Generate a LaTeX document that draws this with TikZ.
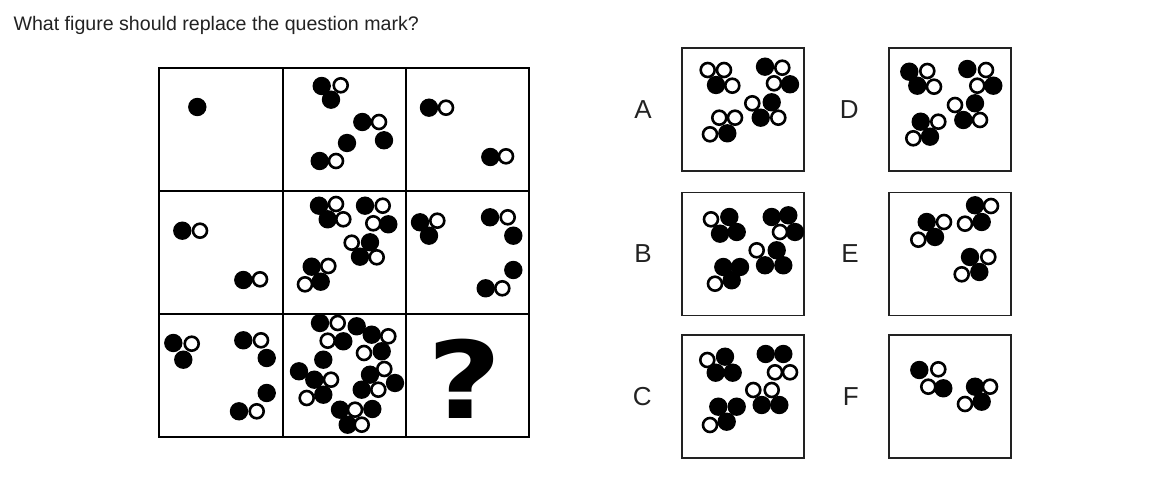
\documentclass[tikz,border=0pt]{standalone}
\usepackage{fontspec}
\setmainfont{Liberation Sans}
\newfontfamily\heavyfont{DejaVu Sans Bold}
\usepackage{xcolor}
\definecolor{inkGray}{HTML}{222222}
\usetikzlibrary{positioning}
\tikzset{
    bdot/.style={fill=black},
    wdot/.style={draw=black, fill=white, line width=2.6pt},
    gridline/.style={draw=black, line width=1.4pt},
    optbox/.style={draw=inkGray, line width=1.4pt, minimum width=122pt,
                   minimum height=123pt, inner sep=0pt},
    optlabel/.style={font=\fontsize{26}{26}\selectfont, text=inkGray},
}

\begin{document}
\begin{tikzpicture}[x=1pt, y=-1pt]
    \useasboundingbox (0,0) rectangle (1168,478);
    \node[anchor=base west, font=\fontsize{19.6}{19.6}\selectfont, text=inkGray] (title) at (10,30.5)
        {What figure should replace the question mark?};

    % grid
    \draw[gridline] (159,68) rectangle (529,437);
    \foreach \x in {283,406} \draw[gridline] (\x,68) -- (\x,437);
    \foreach \y in {191,314} \draw[gridline] (159,\y) -- (529,\y);

    % row 1
    \foreach \x/\y in {197.3/107} \fill[bdot] (\x,\y) circle (9.2);
    \foreach \x/\y in {321.7/86, 331/99.7, 362.3/122, 384/140.3, 347/143, 319.7/161}
        \fill[bdot] (\x,\y) circle (9.2);
    \foreach \x/\y in {340.7/85.3, 379/122, 336/161} \draw[wdot] (\x,\y) circle (7);
    \foreach \x/\y in {429/107.7, 490.3/157} \fill[bdot] (\x,\y) circle (9.2);
    \foreach \x/\y in {446/107.7, 506/156.3} \draw[wdot] (\x,\y) circle (7);

    % row 2
    \foreach \x/\y in {182.3/230.7, 243.3/280} \fill[bdot] (\x,\y) circle (9.2);
    \foreach \x/\y in {200/230.7, 260/279.3} \draw[wdot] (\x,\y) circle (7);
    \foreach \x/\y in {319/205.7, 327.7/219.3, 365/205.7, 388.3/224.3, 370/242.3, 360/256.7,
                       311.7/266.7, 320.7/281.7}
        \fill[bdot] (\x,\y) circle (9.2);
    \foreach \x/\y in {336/204, 343.3/219.3, 382.7/205.7, 373.3/223.3, 351.7/242.7, 376.7/257.3,
                       328.3/266, 305/284.3}
        \draw[wdot] (\x,\y) circle (7);
    \foreach \x/\y in {420/222.3, 429/235.7, 490/217.3, 513.3/235.7, 513.3/270, 485.7/288.3}
        \fill[bdot] (\x,\y) circle (9.2);
    \foreach \x/\y in {437.3/220.7, 507.7/217.3, 502.3/288.3} \draw[wdot] (\x,\y) circle (7);

    % row 3
    \foreach \x/\y in {173.3/343, 183.3/359.7, 243.3/340.3, 266.7/358, 266.7/393, 239/411.3}
        \fill[bdot] (\x,\y) circle (9.2);
    \foreach \x/\y in {191.7/343.7, 261/340.3, 256.7/411.3} \draw[wdot] (\x,\y) circle (7);
    \foreach \x/\y in {320/323, 343.3/341.3, 323.3/359.7, 356.7/326.3, 371.7/334.7, 381.7/351.3,
                       299/371.3, 314.3/379.7, 323.3/394.7, 370/374.7, 395/383, 361.7/389.7,
                       340/409.7, 372.3/409, 347.7/424.7}
        \fill[bdot] (\x,\y) circle (9.2);
    \foreach \x/\y in {337.7/323, 327.7/340.7, 388.3/336.3, 364/353, 331/379.7, 306.7/398,
                       384.3/369, 378.3/389.7, 355/409.7, 361.7/424.7}
        \draw[wdot] (\x,\y) circle (7);
    \node[anchor=base, xscale=1.2, font=\heavyfont\fontsize{107}{107}\selectfont] (qmark) at (465,418) {?};

    % options
    \node[optbox] (optA) at (743,109.5) {};
    \node[optbox] (optB) at (743,254) {};
    \node[optbox] (optC) at (743,396.5) {};
    \node[optbox] (optD) at (950,109.5) {};
    \node[optbox] (optE) at (950,254) {};
    \node[optbox] (optF) at (950,396.5) {};
    \foreach \o in {A,B,C,D,E,F}
        \node[optlabel, left=26pt of opt\o] (lab\o) {\o};

    \foreach \x/\y in {716/85, 765/66.7, 790/84.3, 771.7/102.3, 760.7/117.7, 727.3/133.3}
        \fill[bdot] (\x,\y) circle (9.2);
    \foreach \x/\y in {707.7/70, 724/70, 732.3/85.7, 782.3/67.7, 774/83.3, 752.3/103.3,
                       778.3/117.7, 719.3/117.7, 735/117.7, 710/134.3}
        \draw[wdot] (\x,\y) circle (7);

    \foreach \x/\y in {729.3/217, 720/233.7, 736.7/232, 771.7/217, 788.3/215.3, 795/232,
                       776.7/250.3, 765/265.3, 783.3/265.3, 723.3/267, 740/267, 731.7/280.3}
        \fill[bdot] (\x,\y) circle (9.2);
    \foreach \x/\y in {711/219.3, 780/232, 756.7/250.3, 715/283.7} \draw[wdot] (\x,\y) circle (7);

    \foreach \x/\y in {725/356.7, 715.7/372.7, 732.7/372.7, 765.7/354, 783.3/354, 761.7/405,
                       779.3/405, 718.3/406.7, 736.7/406.7, 726.7/421.7}
        \fill[bdot] (\x,\y) circle (9.2);
    \foreach \x/\y in {707.3/360, 775/372.3, 790/372.3, 753.3/390, 771.7/390, 710/425}
        \draw[wdot] (\x,\y) circle (7);

    \foreach \x/\y in {909.3/71.7, 917.3/85.7, 967.3/69, 993.3/85.7, 975/103.3, 963.3/120,
                       920.7/121.7, 930/136.7}
        \fill[bdot] (\x,\y) circle (9.2);
    \foreach \x/\y in {927.3/71, 934/86.7, 986/70, 977.3/85.7, 955/105, 980/120, 938.3/121.7,
                       913.3/138.3}
        \draw[wdot] (\x,\y) circle (7);

    \foreach \x/\y in {926.7/222, 935/237, 975/205.3, 981.7/222, 970/257, 979.3/272}
        \fill[bdot] (\x,\y) circle (9.2);
    \foreach \x/\y in {944/222, 918.3/239.7, 991/206, 965/223.7, 988.3/257, 961.7/274.3}
        \draw[wdot] (\x,\y) circle (7);

    \foreach \x/\y in {919.3/370, 943.3/388.3, 975/386.7, 981.7/401.7}
        \fill[bdot] (\x,\y) circle (9.2);
    \foreach \x/\y in {938.3/369.3, 928.3/386.7, 990/386.7, 965/404} \draw[wdot] (\x,\y) circle (7);
\end{tikzpicture}
\end{document}
